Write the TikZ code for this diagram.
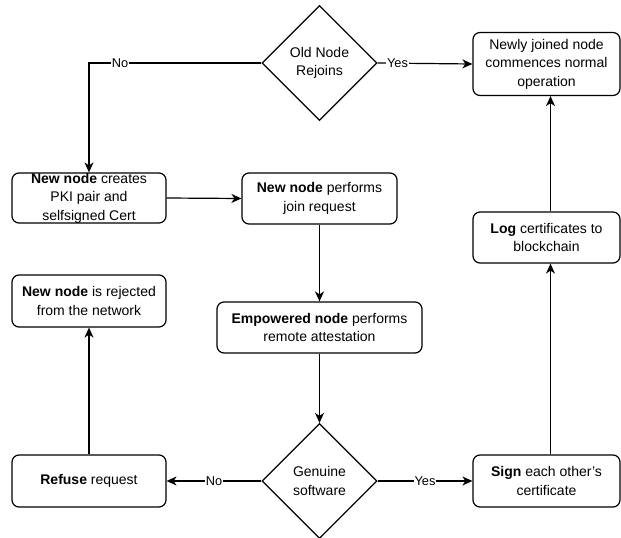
\documentclass[tikz,border=0pt]{standalone}
\usepackage{fontspec}
\setmainfont{Liberation Sans}
\usepackage{xcolor}
\definecolor{inkline}{HTML}{000000}
\usepackage{tikz}
\usetikzlibrary{shapes.geometric,arrows.meta,positioning}

\begin{document}
\begin{tikzpicture}[x=1pt, y=-1pt,
      flowbox/.style={rectangle, rounded corners=7pt, draw=inkline, fill=white, text=inkline, line width=1.2pt, font=\fontsize{14}{18.5}\selectfont, align=center, inner sep=0pt},
      decision/.style={diamond, aspect=1, draw=inkline, fill=white, text=inkline, line width=1.2pt, minimum width=115pt, minimum height=115pt, inner sep=0pt, font=\fontsize{14}{18.5}\selectfont, align=center},
      boxtext/.style={font=\fontsize{14}{18.5}\selectfont, align=center, inner sep=0pt},
      lbl/.style={fill=white, inner sep=0.6pt, font=\fontsize{12.8}{14}\selectfont},
      arr/.style={-{Stealth[length=10pt, width=9pt, inset=3pt]}, inkline, line width=1.2pt}
    ]
      \path[fill=white, use as bounding box] (0,0) rectangle (621,538);
      \node[decision] (rejoin) at (319.5,63) {Old Node\\Rejoins};
      \node[flowbox, minimum width=147pt, minimum height=63pt] (normal) at (546.5,64) {Newly joined node\\commences normal\\operation};
      \node[flowbox, minimum width=154pt, minimum height=50pt, label={[boxtext]center:{\textbf{New node} creates\\PKI pair and\\selfsigned Cert}}] (create) at (89,198) {};
      \node[flowbox, minimum width=155pt, minimum height=51pt] (join) at (319.5,198.5) {\textbf{New node} performs\\join request};
      \node[flowbox, minimum width=147pt, minimum height=51pt] (log) at (546.5,237.5) {\textbf{Log} certificates to\\blockchain};
      \node[flowbox, minimum width=154pt, minimum height=52pt] (rejected) at (89,301) {\textbf{New node} is rejected\\from the network};
      \node[flowbox, minimum width=205pt, minimum height=51pt] (attest) at (319.5,327.5) {\textbf{Empowered node} performs\\remote attestation};
      \node[decision] (genuine) at (319.5,481) {Genuine\\software};
      \node[flowbox, minimum width=154pt, minimum height=52pt] (refuse) at (89,481) {\textbf{Refuse} request};
      \node[flowbox, minimum width=147pt, minimum height=52pt] (sign) at (546.5,481) {\textbf{Sign} each other's\\certificate};
      \draw[arr] (rejoin.west) -| node[lbl, pos=0.41] {No} (create.north);
      \draw[arr] (rejoin.east) -- node[lbl, pos=0.21] {Yes} (normal.west);
      \draw[arr] (create.east) -- (join.west);
      \draw[arr] (join.south) -- (attest.north);
      \draw[arr] (attest.south) -- (genuine.north);
      \draw[arr] (genuine.west) -- node[lbl] {No} (refuse.east);
      \draw[arr] (genuine.east) -- node[lbl] {Yes} (sign.west);
      \draw[arr] (refuse.north) -- (rejected.south);
      \draw[arr] ([xshift=4pt]sign.north) -- ([xshift=4pt]log.south);
      \draw[arr] ([xshift=4pt]log.north) -- ([xshift=4pt]normal.south);
    \end{tikzpicture}
\end{document}
